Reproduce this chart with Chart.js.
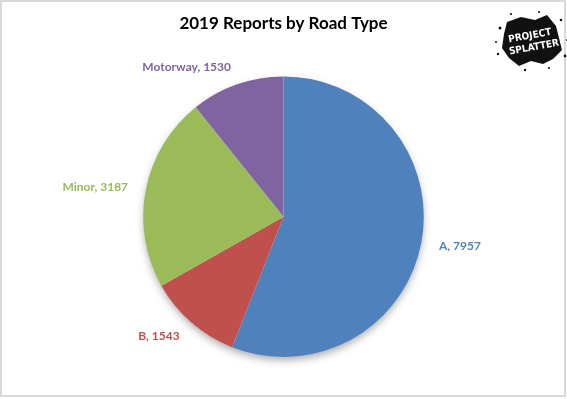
<!DOCTYPE html>
<html>
<head>
<meta charset="utf-8">
<script src="https://cdn.jsdelivr.net/npm/chart.js@4"></script>
<style>
  html, body { margin: 0; padding: 0; background: #fff; }
  #wrap { width: 567px; height: 399px; }
</style>
</head>
<body>
<div id="wrap"><canvas id="chart" width="567" height="399"></canvas></div>
<script>
const roadTypes = ['A', 'B', 'Minor', 'Motorway'];
const reportCounts = [7957, 1543, 3187, 1530];
const sliceColours = ['#4F81BD', '#C0504D', '#9BBB59', '#8064A2'];
const labelFont = 'bold 12px Lato';

// soft shadow under the pie, like the spreadsheet original
const pieShadow = {
  id: 'pieShadow',
  beforeDatasetsDraw(chart) {
    const arc = chart.getDatasetMeta(0).data[0];
    if (!arc) return;
    const ctx = chart.ctx;
    ctx.save();
    ctx.shadowColor = 'rgba(0,0,0,0.35)';
    ctx.shadowBlur = 9;
    ctx.shadowOffsetY = 4;
    ctx.fillStyle = '#fff';
    ctx.beginPath();
    ctx.arc(arc.x, arc.y, arc.outerRadius - 1, 0, Math.PI * 2);
    ctx.fill();
    ctx.restore();
  }
};

// "Name, value" labels just outside each slice
const outsideLabels = {
  id: 'outsideLabels',
  afterDatasetsDraw(chart) {
    const ctx = chart.ctx;
    const meta = chart.getDatasetMeta(0);
    ctx.save();
    ctx.font = labelFont;
    ctx.textBaseline = 'middle';
    meta.data.forEach((arc, i) => {
      const mid = (arc.startAngle + arc.endAngle) / 2;
      const r = arc.outerRadius + 18;
      const x = arc.x + Math.cos(mid) * r;
      const y = arc.y + Math.sin(mid) * r;
      ctx.textAlign = Math.cos(mid) >= 0 ? 'left' : 'right';
      ctx.fillStyle = sliceColours[i];
      ctx.fillText(roadTypes[i] + ', ' + reportCounts[i], x, y);
    });
    ctx.restore();
  }
};

// frame and the splatter logo
const frameAndLogo = {
  id: 'frameAndLogo',
  afterDraw(chart) {
    const ctx = chart.ctx;
    ctx.save();
    ctx.strokeStyle = '#d9d9d9';
    ctx.lineWidth = 2;
    ctx.strokeRect(1, 1, 564, 395);

    // splat blob
    const cx = 531, cy = 42;
    const pts = [[-24,-20],[-10,-25],[4,-22],[16,-27],[25,-16],[28,-4],[31,8],[22,17],[12,22],[0,19],[-12,24],[-22,16],[-29,6],[-27,-8]];
    ctx.fillStyle = '#111';
    ctx.beginPath();
    pts.forEach((p, i) => i ? ctx.lineTo(cx + p[0], cy + p[1]) : ctx.moveTo(cx + p[0], cy + p[1]));
    ctx.closePath();
    ctx.fill();
    const dots = [[-31,-14,1.5],[-33,12,1.2],[30,-22,1.3],[34,14,1.4],[-6,28,1.2],[18,26,1],[-20,-28,1.1],[8,-30,1],[36,-2,1],[-35,0,1]];
    dots.forEach(d => { ctx.beginPath(); ctx.arc(cx + d[0], cy + d[1], d[2], 0, Math.PI * 2); ctx.fill(); });

    ctx.translate(cx, cy);
    ctx.rotate(-0.18);
    ctx.fillStyle = '#fff';
    ctx.textAlign = 'center';
    ctx.textBaseline = 'middle';
    ctx.font = 'bold 10px "DejaVu Sans Condensed", "Liberation Sans Narrow", sans-serif';
    ctx.fillText('PROJECT', 0, -6);
    ctx.fillText('SPLATTER', 2, 6);
    ctx.restore();
  }
};

new Chart(document.getElementById('chart'), {
  type: 'pie',
  data: {
    labels: roadTypes,
    datasets: [{
      data: reportCounts,
      backgroundColor: sliceColours,
      borderWidth: 0
    }]
  },
  options: {
    responsive: false,
    animation: false,
    layout: { padding: { top: 0, bottom: 42, left: 0, right: 0 } },
    plugins: {
      legend: { display: false },
      tooltip: { enabled: false },
      title: {
        display: true,
        text: '2019 Reports by Road Type',
        color: '#000',
        font: { family: 'Lato', size: 17, weight: 'bold', lineHeight: 1.2 },
        padding: { top: 13, bottom: 43 }
      }
    }
  },
  plugins: [pieShadow, outsideLabels, frameAndLogo]
});
</script>
</body>
</html>
